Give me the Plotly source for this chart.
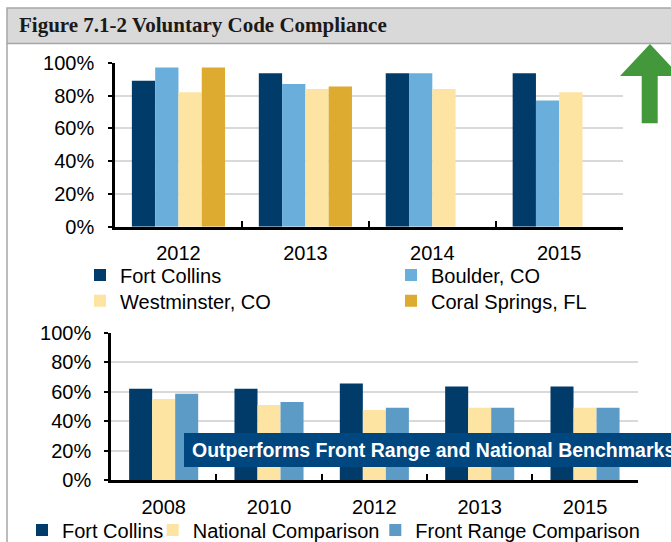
import plotly.graph_objects as go

W, H = 671, 542

# top panel: voluntary code compliance by city
years_top = ["2012", "2013", "2014", "2015"]
fort_collins_top = [0.89, 0.935, 0.935, 0.935]
boulder_top = [0.97, 0.87, 0.935, 0.77]
westminster_top = [0.82, 0.84, 0.84, 0.82]
coral_springs_top = [0.97, 0.855, None, None]

# bottom panel: Fort Collins vs benchmarks
years_bottom = ["2008", "2010", "2012", "2013", "2015"]
fort_collins_bottom = [0.62, 0.62, 0.655, 0.635, 0.635]
national_bottom = [0.55, 0.51, 0.475, 0.49, 0.49]
front_range_bottom = [0.585, 0.53, 0.49, 0.49, 0.49]

NAVY = "#003B6A"
SKY = "#6AAFDC"
CREAM = "#FDE4A2"
GOLD = "#DDAB2F"
STEEL = "#5B9BC6"
FONT = "Liberation Sans, Arial, sans-serif"


def px_x(x):
    return x / W


def px_y(y):
    return 1 - y / H


fig = go.Figure()

w1 = 0.1835
top_series = [
    ("Fort Collins", fort_collins_top, NAVY, "legend"),
    ("Boulder, CO", boulder_top, SKY, "legend"),
    ("Westminster, CO", westminster_top, CREAM, "legend2"),
    ("Coral Springs, FL", coral_springs_top, GOLD, "legend2"),
]
for i, (name, vals, color, leg) in enumerate(top_series):
    fig.add_trace(go.Bar(
        x=years_top, y=vals, name=name, marker_color=color,
        width=w1, offset=-2 * w1 + i * w1,
        xaxis="x", yaxis="y", legend=leg, legendwidth=266,
    ))

w2 = 0.2185
bottom_series = [
    ("Fort Collins", fort_collins_bottom, NAVY, 85.7),
    ("National Comparison", national_bottom, CREAM, 177.6),
    ("Front Range Comparison", front_range_bottom, STEEL, 240),
]
for i, (name, vals, color, lw) in enumerate(bottom_series):
    fig.add_trace(go.Bar(
        x=years_bottom, y=vals, name=name, marker_color=color,
        width=w2, offset=-1.5 * w2 + i * w2,
        xaxis="x2", yaxis="y2", legend="legend3", legendwidth=lw,
    ))

xaxis_style = dict(
    type="category",
    showline=True, linecolor="black", linewidth=2.5,
    ticks="inside", tickson="boundaries", ticklen=6, tickwidth=2, tickcolor="black",
    tickfont=dict(size=20, color="black", family=FONT), ticklabelstandoff=7,
    showgrid=False, fixedrange=True,
)
yaxis_style = dict(
    range=[0, 1], dtick=0.2, tickformat=".0%",
    showline=True, linecolor="black", linewidth=2.5,
    ticks="outside", ticklen=4, tickwidth=2, tickcolor="black",
    tickfont=dict(size=20, color="black", family=FONT),
    showgrid=True, gridcolor="#D9D9D9", gridwidth=2, zeroline=False, fixedrange=True,
)

legend_style = dict(
    orientation="h", xref="container", yref="container",
    xanchor="left", yanchor="top", bgcolor="rgba(0,0,0,0)",
    font=dict(size=20, color="black", family=FONT),
)

fig.update_layout(
    template="none",
    width=W, height=H,
    margin=dict(l=0, r=0, t=0, b=0, autoexpand=False),
    paper_bgcolor="white", plot_bgcolor="white",
    barmode="overlay",
    xaxis=dict(domain=[px_x(115), px_x(622.7)], anchor="y", **xaxis_style),
    yaxis=dict(domain=[px_y(226.7), px_y(62.7)], anchor="x", ticklabelstandoff=10, **yaxis_style),
    xaxis2=dict(domain=[px_x(111), px_x(637.7)], anchor="y2", **xaxis_style),
    yaxis2=dict(domain=[px_y(480), px_y(332.7)], anchor="x2", ticklabelstandoff=9, **yaxis_style),
    legend=dict(x=px_x(80), y=px_y(255.5), **legend_style),
    legend2=dict(x=px_x(80), y=px_y(281.2), **legend_style),
    legend3=dict(x=px_x(22), y=px_y(510.5), **legend_style),
    showlegend=True,
)

# title bar, frame, arrow and banner
fig.add_shape(type="rect", xref="paper", yref="paper",
              x0=px_x(7), x1=px_x(700), y0=px_y(43.5), y1=px_y(8),
              fillcolor="#D9D9D9", line=dict(color="#A6A6A6", width=1.5), layer="below")
fig.add_shape(type="line", xref="paper", yref="paper",
              x0=px_x(7), x1=px_x(7), y0=px_y(43.5), y1=px_y(560),
              line=dict(color="#A6A6A6", width=1.5))
arrow = [(650, 44), (680, 76), (657.7, 76), (657.7, 123.3), (641.7, 123.3), (641.7, 76), (620, 76)]
path = "M " + " L ".join(f"{px_x(a):.5f},{px_y(b):.5f}" for a, b in arrow) + " Z"
fig.add_shape(type="path", xref="paper", yref="paper", path=path,
              fillcolor="#43983B", line=dict(width=0))
fig.add_shape(type="rect", xref="paper", yref="paper",
              x0=px_x(184), x1=px_x(700), y0=px_y(467), y1=px_y(433),
              fillcolor="#00467F", line=dict(width=0), layer="above")

fig.add_annotation(
    text="<b>Figure 7.1-2 Voluntary Code Compliance</b>",
    x=px_x(17), y=px_y(25.5), xref="paper", yref="paper",
    xanchor="left", yanchor="middle", showarrow=False,
    font=dict(family="Liberation Serif, Times New Roman, serif", size=21, color="#1A1A1A"),
)
fig.add_annotation(
    text="<b>Outperforms Front Range and National Benchmarks</b>",
    x=px_x(190), y=px_y(450), xref="paper", yref="paper",
    xanchor="left", yanchor="middle", showarrow=False,
    font=dict(family=FONT, size=19.5, color="white"),
)

fig.write_html("out.html", config={"displayModeBar": False},
               post_script="document.body.style.margin = '0px';")
